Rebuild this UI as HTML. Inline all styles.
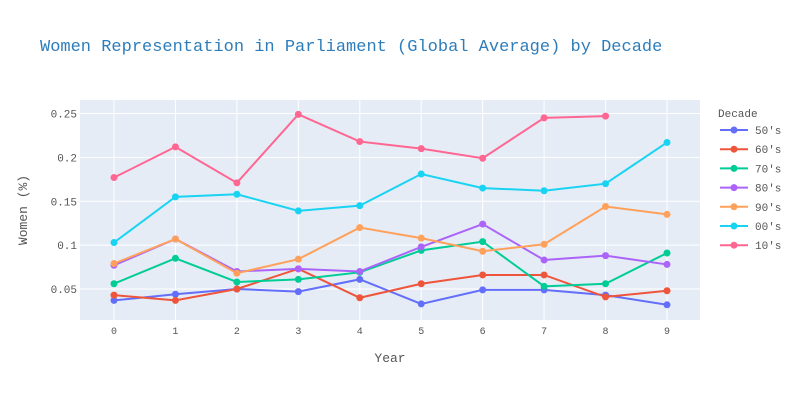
<!DOCTYPE html>
<html><head><meta charset="utf-8"><style>
body{margin:0;background:#fff;}
svg{font-family:"Liberation Mono",monospace;}
</style></head><body>
<svg id="chart" width="800" height="400">
<rect x="0" y="0" width="800" height="400" fill="#fff"/>
<text x="40" y="51" font-size="17" fill="#2e7dba">Women Representation in Parliament (Global Average) by Decade</text>
<rect x="80" y="100" width="620" height="220" fill="#e5ecf6"/>
<g id="grid"></g><g id="ticks"></g><g id="series"></g><g id="legend"></g>
<text x="390" y="362" font-size="13" fill="#555" text-anchor="middle">Year</text>
<text transform="translate(27,210) rotate(-90)" font-size="13" fill="#555" text-anchor="middle">Women (%)</text>
</svg>
<script>
const years=[0,1,2,3,4,5,6,7,8,9];
const decades=["50's","60's","70's","80's","90's","00's","10's"];
const colors=["#636efa","#ef553b","#00cc96","#ab63fa","#ffa15a","#19d3f3","#ff6692"];
const s50=[0.037,0.044,0.050,0.047,0.061,0.033,0.049,0.049,0.043,0.032];
const s60=[0.043,0.037,0.050,0.073,0.040,0.056,0.066,0.066,0.041,0.048];
const s70=[0.056,0.085,0.058,0.061,0.069,0.094,0.104,0.053,0.056,0.091];
const s80=[0.077,0.107,0.070,0.073,0.070,0.098,0.124,0.083,0.088,0.078];
const s90=[0.079,0.107,0.068,0.084,0.120,0.108,0.093,0.101,0.144,0.135];
const s00=[0.103,0.155,0.158,0.139,0.145,0.181,0.165,0.162,0.170,0.217];
const s10=[0.177,0.212,0.171,0.249,0.218,0.210,0.199,0.245,0.247];
const yTicks=[0.05,0.1,0.15,0.2,0.25];
const yTickLabels=["0.05","0.1","0.15","0.2","0.25"];
const allSeries=[s50,s60,s70,s80,s90,s00,s10];
const NS="http://www.w3.org/2000/svg";
function X(v){return 114+v*(667-114)/9;}
function Y(v){return 289-(v-0.05)*(289-113.5)/0.2;}
function mk(tag,attrs,parent){const e=document.createElementNS(NS,tag);for(const k in attrs)e.setAttribute(k,attrs[k]);parent.appendChild(e);return e;}
const grid=document.getElementById('grid'),ticks=document.getElementById('ticks'),ser=document.getElementById('series'),leg=document.getElementById('legend');
years.forEach(v=>{
 const l=mk('line',{x1:X(v),x2:X(v),y1:100,y2:320,stroke:'#fff','stroke-width':1},grid);
 
 
 const t=mk('text',{x:X(v),y:334,'font-size':10,fill:'#555','text-anchor':'middle'},ticks);
 t.textContent=String(v);
 
 
});
yTicks.forEach((v,i)=>{
 const l=mk('line',{x1:80,x2:700,y1:Y(v),y2:Y(v),stroke:'#fff','stroke-width':1},grid);
 
 
 const t=mk('text',{x:77,y:Y(v)+4,'font-size':11,fill:'#555','text-anchor':'end'},ticks);
 t.textContent=yTickLabels[i];
 
 
});
allSeries.forEach((s,i)=>{
 const g=mk('g',{},ser);
 
 
 const pts=s.map((v,j)=>X(years[j])+','+Y(v)).join(' ');
 const pl=mk('polyline',{points:pts,fill:'none',stroke:colors[i],'stroke-width':2},g);
 
 
 s.forEach((v,j)=>{
  const c=mk('circle',{cx:X(years[j]),cy:Y(v),r:3.5,fill:colors[i]},g);
  
  
 });
});
const lt=mk('text',{x:718,y:117,'font-size':11,fill:'#555'},leg);
lt.textContent='Decade';


decades.forEach((d,i)=>{
 const y=130+i*19.2;
 const g=mk('g',{},leg);
 
 
 mk('line',{x1:720,x2:748,y1:y,y2:y,stroke:colors[i],'stroke-width':2},g);
 mk('circle',{cx:734,cy:y,r:3.5,fill:colors[i]},g);
 const t=mk('text',{x:755,y:y+4,'font-size':11,fill:'#555'},g);
 t.textContent=d;
});
</script>
</body></html>
